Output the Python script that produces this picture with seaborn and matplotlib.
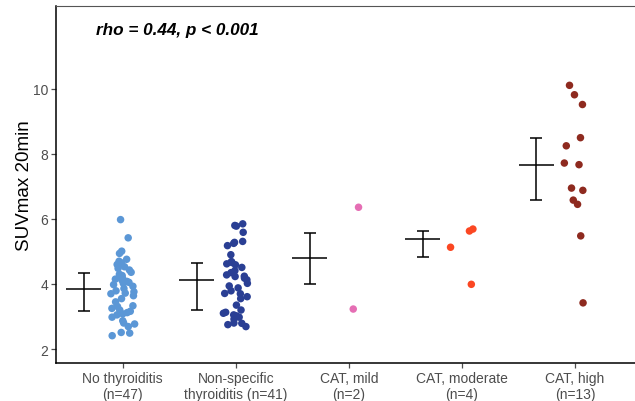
import numpy as np
import pandas as pd
import seaborn as sns
from matplotlib import pyplot as plt

# SUVmax values per group
no_thyroiditis = [2.41, 2.49, 2.51, 2.69, 2.77, 2.80, 2.87, 2.98, 3.05, 3.08, 3.12, 3.16,
                  3.20, 3.25, 3.31, 3.33, 3.45, 3.55, 3.64, 3.70, 3.72, 3.76, 3.79, 3.86,
                  3.93, 3.98, 4.02, 4.05, 4.08, 4.12, 4.15, 4.18, 4.22, 4.26, 4.30, 4.36,
                  4.43, 4.48, 4.53, 4.60, 4.65, 4.70, 4.76, 4.94, 5.01, 5.42, 5.98]
non_specific = [2.69, 2.75, 2.79, 2.80, 2.92, 2.98, 3.02, 3.05, 3.10, 3.13, 3.20, 3.35,
                3.55, 3.61, 3.70, 3.71, 3.79, 3.88, 3.94, 4.02, 4.13, 4.18, 4.23, 4.24,
                4.28, 4.35, 4.41, 4.51, 4.59, 4.62, 4.66, 4.69, 4.90, 5.18, 5.25, 5.28,
                5.31, 5.59, 5.78, 5.80, 5.85]
cat_mild = [6.36, 3.23]
cat_moderate = [5.63, 5.69, 5.13, 3.99]
cat_high = [10.11, 9.82, 9.52, 8.50, 8.25, 7.67, 7.72, 6.95, 6.88, 6.58, 6.45, 5.48, 3.42]

labels = ["No thyroiditis\n(n=47)", "Non-specific\nthyroiditis (n=41)", "CAT, mild\n(n=2)",
          "CAT, moderate\n(n=4)", "CAT, high\n(n=13)"]
colors = ["#5B97D6", "#2A3F94", "#E56EB4", "#FB4722", "#8E2A1F"]

groups = [no_thyroiditis, non_specific, cat_mild, cat_moderate, cat_high]
data = pd.DataFrame({
    "group": np.repeat(labels, [len(g) for g in groups]),
    "suv": np.concatenate(groups),
})

sns.set_style("white")
plt.rcParams['font.family'] = ['Liberation Sans', 'DejaVu Sans']

fig = plt.figure(figsize=(6.35, 4.02), dpi=100)
ax = fig.add_axes([0.0882, 0.0945, 0.9118, 0.8881])

np.random.seed(7)
sns.stripplot(data=data, x="group", y="suv", hue="group", palette=colors, order=labels,
              jitter=0.11, size=5.4, linewidth=0, legend=False, ax=ax)

# median and IQR bars, nudged to the left of each group
stats = data.groupby("group", sort=False)["suv"].quantile([0.25, 0.5, 0.75]).unstack()
for i, lab in enumerate(labels):
    q1, med, q3 = stats.loc[lab, 0.25], stats.loc[lab, 0.5], stats.loc[lab, 0.75]
    xc = i - 0.345
    ax.errorbar(xc, med, yerr=[[med - q1], [q3 - med]], fmt="none", ecolor="black",
                elinewidth=1.1, capsize=4.3, capthick=1.1)
    ax.hlines(med, xc - 0.155, xc + 0.155, color="black", lw=1.1)

ax.set_xlim(-0.59, 4.53)
ax.set_ylim(1.57, 12.55)
ax.set_yticks([2, 4, 6, 8, 10])
ax.set_xlabel("")
ax.set_ylabel("SUVmax 20min", fontsize=13.5, color="black", labelpad=0)
ax.tick_params(axis="both", colors="#4D4D4D", labelsize=10, length=3.5, width=0.9,
               left=True, bottom=True, pad=2)
for s in ["left", "bottom"]:
    ax.spines[s].set_color("black")
    ax.spines[s].set_linewidth(1.1)
ax.spines["top"].set_color("#555555")
ax.spines["top"].set_linewidth(0.8)
ax.spines["right"].set_visible(False)

ax.text(-0.24, 11.82, "rho = 0.44, p < 0.001", fontsize=12.3, fontweight="bold",
        fontstyle="italic", va="center", ha="left", color="black")

plt.savefig("out.png", dpi=100)
